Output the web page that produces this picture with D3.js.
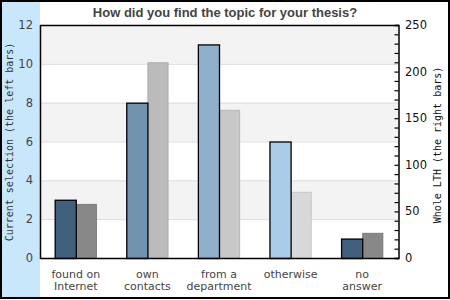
<!DOCTYPE html>
<html>
<head>
<meta charset="utf-8">
<script src="https://cdn.jsdelivr.net/npm/d3@7"></script>
<style>
	body { margin: 0; background: #fff; }
	svg text { font-family: "DejaVu Sans", sans-serif; }
</style>
</head>
<body>
<div id="chart"></div>
<script>
var categories = [["found on", "Internet"], ["own", "contacts"], ["from a", "department"], ["otherwise"], ["no", "answer"]]
var leftValues = [3, 8, 11, 6, 1]
var rightValues = [58, 210, 159, 71, 27]
var leftTicks = [0, 2, 4, 6, 8, 10, 12]
var rightTicks = [0, 50, 100, 150, 200, 250]

var leftColors = ['#41607e', '#7293b0', '#8fb0cc', '#aacce8', '#41607e']
var rightColors = ['#888888', '#bbbbbb', '#c8c8c8', '#d8d8d8', '#888888']

var width = 450,
	height = 300

var svg = d3.select('#chart').append('svg')
	.attr('width', width)
	.attr('height', height);

var plotL = 40, plotR = 398, plotT = 25, plotB = 258

var x = d3.scaleBand()
	.range([plotL, plotR])
	.domain(d3.range(categories.length))
	.paddingInner(.41)
	.paddingOuter(.205);

var x1 = d3.scaleBand()
	.range([0, x.bandwidth()])
	.domain(['l', 'r']);

var yL = d3.scaleLinear()
	.range([plotB, plotT])
	.domain([0, 12]);

var yR = d3.scaleLinear()
	.range([plotB, plotT])
	.domain([0, 250]);

// side band
svg.append('rect')
	.attr('x', 2).attr('y', 2)
	.attr('width', plotL - 2).attr('height', 295)
	.attr('fill', '#c9e7fb');

// alternating bands
for (var i = 0; i < leftTicks.length - 1; i++) {
	if (i % 2 == 1) {
		svg.append('rect')
			.attr('x', plotL)
			.attr('y', yL(leftTicks[i + 1]))
			.attr('width', plotR - plotL)
			.attr('height', yL(leftTicks[i]) - yL(leftTicks[i + 1]))
			.attr('fill', '#f3f3f3');
	}
}

// grid lines
svg.selectAll('.grid')
	.data(leftTicks.slice(1, -1))
	.enter().append('line')
	.attr('class', 'grid')
	.attr('x1', plotL).attr('x2', plotR)
	.attr('y1', function (d) { return yL(d) + .5; })
	.attr('y2', function (d) { return yL(d) + .5; })
	.attr('stroke', '#dddddd');

// right bars
svg.selectAll('.rbar')
	.data(rightValues)
	.enter().append('rect')
	.attr('class', 'rbar')
	.attr('x', function (d, i) { return x(i) + x1('r') + .5; })
	.attr('y', function (d) { return yR(d) + .5; })
	.attr('width', x1.bandwidth() - 1)
	.attr('height', function (d) { return plotB - yR(d); })
	.attr('fill', function (d, i) { return rightColors[i]; })
	.attr('stroke', function (d, i) { return d3.color(rightColors[i]).darker(.25); })
	.attr('stroke-width', 1);

// left bars
svg.selectAll('.lbar')
	.data(leftValues)
	.enter().append('rect')
	.attr('class', 'lbar')
	.attr('x', function (d, i) { return x(i) + x1('l') + .5; })
	.attr('y', function (d) { return yL(d) + .5; })
	.attr('width', x1.bandwidth())
	.attr('height', function (d) { return plotB - yL(d); })
	.attr('fill', function (d, i) { return leftColors[i]; })
	.attr('stroke', '#000')
	.attr('stroke-width', 1.3);

// frame lines
svg.append('line')
	.attr('x1', plotL).attr('x2', plotR + 1)
	.attr('y1', plotT + .5).attr('y2', plotT + .5)
	.attr('stroke', '#000').attr('stroke-width', 1.5);
svg.append('line')
	.attr('x1', plotL).attr('x2', plotR + 1)
	.attr('y1', plotB + .5).attr('y2', plotB + .5)
	.attr('stroke', '#000').attr('stroke-width', 1.5);
svg.append('line')
	.attr('x1', plotL + .5).attr('x2', plotL + .5)
	.attr('y1', plotT).attr('y2', plotB + 1)
	.attr('stroke', '#000').attr('stroke-width', 1.5);

// left axis labels
svg.selectAll('.ltick')
	.data(leftTicks)
	.enter().append('text')
	.attr('class', 'ltick')
	.attr('x', 33)
	.attr('y', function (d) { return yL(d) + 4; })
	.attr('text-anchor', 'end')
	.attr('font-size', 11.5)
	.attr('fill', '#444')
	.text(function (d) { return d; });

// right axis
var rAxis = d3.axisLeft(yR)
	.ticks(25)
	.tickSize(4)
	.tickFormat('');
svg.append('g')
	.attr('transform', 'translate(' + (plotR + .5) + ',0)')
	.call(rAxis)
	.call(function (g) { g.select('.domain').attr('stroke-width', 1.5); })
	.call(function (g) { g.selectAll('.tick line').attr('stroke-width', 1.2); });

svg.selectAll('.rtick')
	.data(rightTicks)
	.enter().append('text')
	.attr('class', 'rtick')
	.attr('x', 405)
	.attr('y', function (d) { return yR(d) + 4; })
	.attr('font-size', 11.5)
	.attr('fill', '#111')
	.text(function (d) { return d; });

// category labels
categories.forEach(function (c, i) {
	var t = svg.append('text')
		.attr('x', x(i) + x.bandwidth() / 2)
		.attr('y', 278)
		.attr('text-anchor', 'middle')
		.attr('font-size', 11)
		.attr('fill', '#444');
	c.forEach(function (line, j) {
		t.append('tspan')
			.attr('x', x(i) + x.bandwidth() / 2)
			.attr('dy', j == 0 ? 0 : 11.5)
			.text(line);
	});
});

// titles
svg.append('text')
	.attr('x', 225).attr('y', 17)
	.attr('text-anchor', 'middle')
	.attr('font-weight', 'bold')
	.attr('font-size', 13)
	.attr('fill', '#444')
	.style('font-family', '"Liberation Sans", Arial, sans-serif')
	.text('How did you find the topic for your thesis?');

svg.append('text')
	.attr('transform', 'translate(13,142) rotate(-90)')
	.attr('text-anchor', 'middle')
	.attr('font-size', 10)
	.attr('fill', '#333')
	.style('font-family', '"DejaVu Sans Mono", monospace')
	.text('Current selection (the left bars)');

svg.append('text')
	.attr('transform', 'translate(441,145) rotate(-90)')
	.attr('text-anchor', 'middle')
	.attr('font-size', 10)
	.attr('fill', '#111')
	.style('font-family', '"DejaVu Sans Mono", monospace')
	.text('Whole LTH (the right bars)');

// outer border
svg.append('rect')
	.attr('x', 1).attr('y', 1)
	.attr('width', 448).attr('height', 297)
	.attr('fill', 'none')
	.attr('stroke', '#000')
	.attr('stroke-width', 2);
</script>
</body>
</html>
